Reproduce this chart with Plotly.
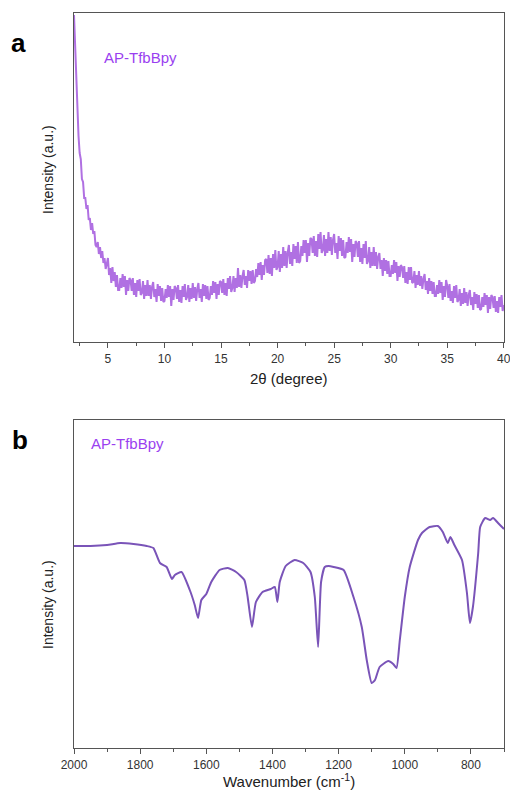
import numpy as np
import plotly.graph_objects as go

# ---------------- Panel a: XRD (2θ from 2 to 40, step 0.1) ----------------
xrd_start = 2.0
xrd_step = 0.1
xrd_intensity = [
    327,
    296, 265, 219, 206, 189, 183, 163, 160, 144, 144,
    133, 137, 122, 124, 112, 119, 108, 111, 97, 95,
    100, 88, 95, 84, 91, 79, 84, 73, 78,
    84, 67, 74, 59, 75, 61, 70, 55, 67, 52,
    52, 64, 54, 68, 55, 66, 47, 62, 51, 64,
    62, 51, 64, 47, 59, 45, 62, 51, 63, 47,
    49, 61, 43, 57, 46, 62, 46, 57, 43, 55,
    60, 45, 53, 40, 58, 46, 56, 41, 54, 40,
    41, 53, 44, 57, 45, 56, 36, 53, 42, 56,
    54, 43, 57, 40, 52, 39, 56, 45, 58, 42,
    45, 57, 40, 54, 43, 59, 44, 55, 41, 53,
    59, 44, 53, 40, 58, 46, 57, 43, 56, 42,
    44, 56, 47, 61, 49, 60, 43, 58, 47, 61,
    60, 49, 63, 47, 59, 46, 64, 53, 66, 50,
    54, 66, 50, 64, 54, 74, 55, 67, 54, 66,
    72, 57, 66, 54, 72, 61, 71, 58, 72, 59,
    61, 73, 65, 79, 67, 80, 62, 77, 67, 82,
    83, 69, 87, 68, 84, 66, 88, 74, 92, 72,
    75, 91, 70, 88, 74, 95, 76, 91, 74, 90,
    97, 78, 90, 76, 98, 83, 96, 79, 100, 79,
    81, 96, 86, 102, 89, 102, 80, 99, 86, 104,
    103, 89, 106, 86, 101, 85, 108, 93, 110, 89,
    92, 107, 86, 103, 89, 110, 91, 105, 87, 102,
    108, 89, 99, 83, 106, 91, 104, 86, 102, 84,
    85, 100, 89, 105, 90, 103, 80, 98, 85, 101,
    99, 85, 101, 80, 94, 78, 98, 84, 101, 78,
    81, 95, 74, 90, 76, 95, 76, 90, 73, 85,
    89, 73, 82, 66, 84, 71, 82, 68, 81, 66,
    66, 77, 68, 82, 69, 80, 61, 76, 65, 77,
    75, 64, 76, 59, 70, 58, 75, 62, 75, 59,
    60, 71, 54, 67, 57, 71, 56, 66, 53, 63,
    68, 52, 61, 48, 64, 51, 61, 48, 60, 46,
    46, 57, 48, 62, 49, 60, 42, 56, 45, 62,
    56, 44, 58, 41, 51, 39, 56, 44, 57, 40,
    42, 53, 36, 49, 38, 54, 39, 50, 36, 47,
    52, 37, 45, 32, 50, 38, 48, 34, 47, 32,
    33, 45, 35, 49, 37, 47, 29, 45, 33, 47,
    45, 34, 46, 30, 41, 29, 45, 35, 47, 31,
    37,
]
xrd_2theta = np.round(xrd_start + xrd_step * np.arange(len(xrd_intensity)), 2)

# ---------------- Panel b: FTIR ----------------
ftir_wavenumber = [
    2000, 1950, 1900, 1860, 1820, 1780, 1760, 1740, 1720, 1704, 1695, 1675,
    1650, 1635, 1625, 1615, 1600, 1585, 1560, 1535, 1510, 1485, 1475, 1462,
    1450, 1430, 1405, 1393, 1385, 1378, 1360, 1333, 1307, 1285, 1272, 1262,
    1253, 1242, 1230, 1215, 1185, 1155, 1130, 1115, 1100, 1090, 1076, 1050,
    1035, 1025, 1015, 1000, 985, 960, 948, 925, 900, 885, 870, 862, 850,
    827, 812, 803, 794, 778, 772, 757, 742, 733, 718, 703, 700,
]
ftir_transmittance = [
    202, 202, 203, 205, 204, 202, 200, 185, 181, 169, 173, 176,
    158, 143, 130, 148, 154, 166, 178, 180, 176, 168, 151, 121,
    146, 156, 159, 161, 146, 166, 182, 188, 185, 176, 151, 101,
    166, 181, 182, 181, 178, 151, 121, 88, 65, 68, 81, 87,
    84, 80, 108, 151, 181, 208, 215, 221, 222, 216, 205, 211, 203,
    188, 155, 125, 141, 195, 221, 230, 228, 230, 225, 220, 219,
]

sample_label = "AP-TfbBpy"
label_color = "#9a3ff0"
xrd_color = "#b070e2"
ftir_color = "#7a54b8"
frame_color = "#555555"
W, H = 510, 791

fig = go.Figure()
fig.add_trace(go.Scatter(x=xrd_2theta, y=xrd_intensity, mode="lines",
                         line=dict(color=xrd_color, width=2.0),
                         xaxis="x", yaxis="y", showlegend=False))
fig.add_trace(go.Scatter(x=ftir_wavenumber, y=ftir_transmittance, mode="lines",
                         line=dict(color=ftir_color, width=2, shape="spline", smoothing=0.5),
                         xaxis="x2", yaxis="y2", showlegend=False))

def px_x(p):
    return p / W

def px_y(p):
    return 1 - p / H

common_x = dict(showline=True, linecolor=frame_color, linewidth=1.3, mirror=True,
                ticks="outside", ticklen=5, tickwidth=1.2, tickcolor=frame_color,
                showgrid=False, zeroline=False, automargin=False,
                ticklabeloverflow="allow",
                tickfont=dict(family="Liberation Sans, Arial", size=12, color="#333333"))
common_y = dict(showline=True, linecolor=frame_color, linewidth=1.3, mirror=True,
                ticks="", showticklabels=False, showgrid=False, zeroline=False,
                automargin=False)

fig.update_layout(
    width=W, height=H,
    margin=dict(l=0, r=0, t=0, b=0, autoexpand=False),
    paper_bgcolor="white", plot_bgcolor="white",
    xaxis=dict(domain=[px_x(74), px_x(504)], anchor="y", range=[2, 40.02],
               tick0=0, dtick=5, minor=dict(dtick=2.5, ticks="outside", ticklen=3,
                                             tickcolor=frame_color, tickwidth=1),
               **common_x),
    yaxis=dict(domain=[px_y(342), px_y(13)], anchor="x", range=[0, 329], **common_y),
    xaxis2=dict(domain=[px_x(74), px_x(504)], anchor="y2", range=[2000, 700],
                tick0=0, dtick=200, minor=dict(dtick=100, ticks="outside", ticklen=3,
                                                tickcolor=frame_color, tickwidth=1),
                **common_x),
    yaxis2=dict(domain=[px_y(748), px_y(420)], anchor="x2", range=[0, 328], **common_y),
)

font_main = "Liberation Sans, Arial"
annots = [
    dict(text="<b>a</b>", x=px_x(18), y=px_y(43), size=26, color="black"),
    dict(text=sample_label, x=px_x(140), y=px_y(57), size=15, color=label_color),
    dict(text="Intensity (a.u.)", x=px_x(48), y=px_y(170), size=14, color="#222222", angle=-90),
    dict(text="2θ (degree)", x=px_x(289), y=px_y(378), size=15, color="#222222"),
    dict(text="<b>b</b>", x=px_x(20), y=px_y(440), size=26, color="black"),
    dict(text=sample_label, x=px_x(127), y=px_y(443), size=15, color=label_color),
    dict(text="Intensity (a.u.)", x=px_x(48), y=px_y(605), size=14, color="#222222", angle=-90),
    dict(text="Wavenumber (cm<sup>-1</sup>)", x=px_x(289), y=px_y(780), size=15, color="#222222"),
]
for a in annots:
    fig.add_annotation(text=a["text"], x=a["x"], y=a["y"], xref="paper", yref="paper",
                       xanchor="center", yanchor="middle", showarrow=False,
                       textangle=a.get("angle", 0),
                       font=dict(family=font_main, size=a["size"], color=a["color"]))

fig.write_html("out.html")
